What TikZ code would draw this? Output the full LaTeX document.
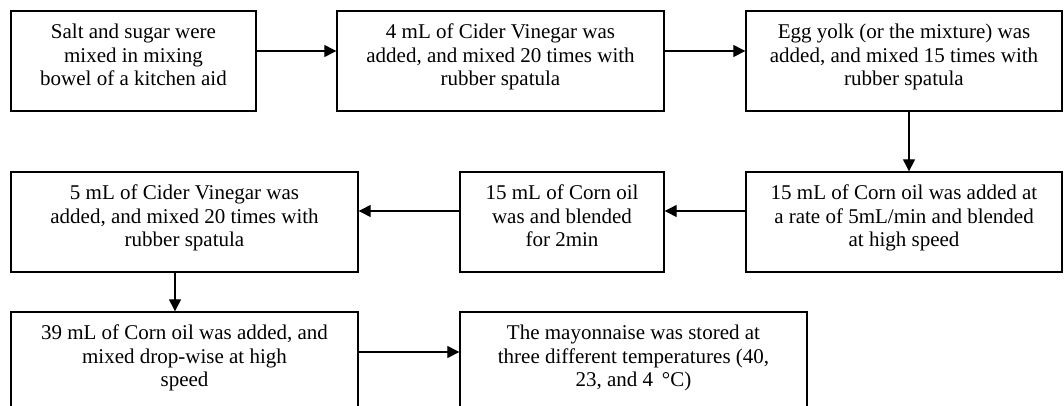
\documentclass[tikz,border=0pt]{standalone}
\usepackage{fontspec}
\setmainfont{Liberation Serif}
\usetikzlibrary{arrows.meta}
\newcommand\lowstrut{\rule[-12pt]{0pt}{0pt}}
\tikzset{
  stepbox/.style={draw, line width=1.4pt, rectangle, align=center, inner sep=0pt,
    minimum height=100pt, font=\fontsize{21}{23.5}\selectfont},
  arr/.style={line width=1.3pt, -{Triangle[length=12pt,width=12pt]}}
}
\begin{document}
\begin{tikzpicture}[x=1pt,y=1pt]
\useasboundingbox (0,0) rectangle (1064,-405);
\clip (0,0) rectangle (1064,-405);
% row 1 (y 11..111)
\node[stepbox, minimum width=245pt] (b1) at (133.5,-61) {Salt and sugar were\\mixed in mixing\\bowel of a kitchen aid\lowstrut};
\node[stepbox, minimum width=327pt] (b2) at (500.5,-61) {4 mL of Cider Vinegar was\\added, and mixed 20 times with\\rubber spatula\lowstrut};
\node[stepbox, minimum width=316pt] (b3) at (904,-61) {Egg yolk (or the mixture) was\\added, and mixed 15 times with\\rubber spatula\lowstrut};
% row 2 (y 172..272)
\node[stepbox, minimum width=347pt] (b4) at (184.5,-222) {5 mL of Cider Vinegar was\\added, and mixed 20 times with\\rubber spatula\lowstrut};
\node[stepbox, minimum width=204pt] (b5) at (562,-222) {15 mL of Corn oil\\was and blended\\for 2min\lowstrut};
\node[stepbox, minimum width=316pt] (b6) at (904,-222) {15 mL of Corn oil was added at\\a rate of 5mL/min and blended\\at high speed\lowstrut};
% row 3 (y 312..412)
\node[stepbox, minimum width=347pt] (b7) at (184.5,-362) {39 mL of Corn oil was added, and\\mixed drop-wise at high\\speed\lowstrut};
\node[stepbox, minimum width=347pt] (b8) at (633.5,-362) {The mayonnaise was stored at\\three different temperatures (40,\\23, and 4 \,°C)\lowstrut};
% connectors
\draw[arr] ([yshift=10pt]b1.east) -- ([yshift=10pt]b2.west);
\draw[arr] ([yshift=10pt]b2.east) -- ([yshift=10pt]b3.west);
\draw[arr] ([xshift=5pt]b3.south) -- ([xshift=5pt]b6.north);
\draw[arr] ([yshift=11pt]b6.west) -- ([yshift=11pt]b5.east);
\draw[arr] ([yshift=11pt]b5.west) -- ([yshift=11pt]b4.east);
\draw[arr] ([xshift=-9.5pt]b4.south) -- ([xshift=-9.5pt]b7.north);
\draw[arr] ([yshift=10pt]b7.east) -- ([yshift=10pt]b8.west);
\end{tikzpicture}
\end{document}
